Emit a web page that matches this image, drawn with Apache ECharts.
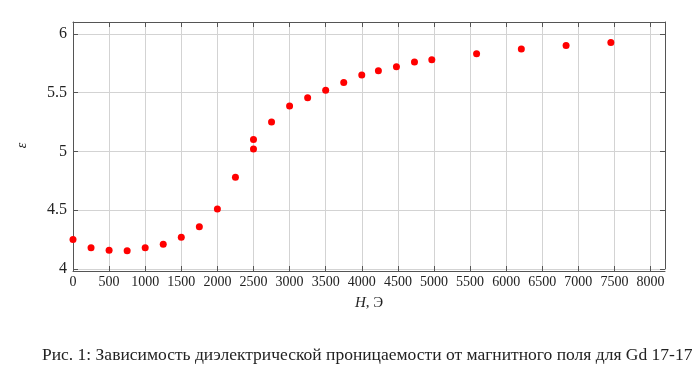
<!DOCTYPE html>
<html>
<head>
<meta charset="utf-8">
<script src="https://cdn.jsdelivr.net/npm/echarts@6/dist/echarts.min.js"></script>
<style>
html,body{margin:0;padding:0;background:#fff;}
#chart{width:700px;height:387px;}
</style>
</head>
<body>
<div id="chart"></div>
<script>
const fieldH = [0, 250, 500, 750, 1000, 1250, 1500, 1750, 2000, 2250, 2500, 2500, 2750, 3000, 3250, 3500, 3750, 4000, 4230, 4480, 4730, 4970, 5590, 6210, 6830, 7450];
const epsilon = [4.25, 4.18, 4.16, 4.155, 4.18, 4.21, 4.27, 4.36, 4.51, 4.78, 5.02, 5.10, 5.25, 5.385, 5.455, 5.52, 5.585, 5.65, 5.685, 5.72, 5.76, 5.78, 5.83, 5.87, 5.90, 5.925];
const xTitle = '{i|H}, Э';
const yTitle = 'ε';
const caption = 'Рис. 1: Зависимость диэлектрической проницаемости от магнитного поля для Gd 17-17';

const serif = '"Liberation Serif", "DejaVu Serif", serif';
const lineCol = '#555';
const gridCol = '#d3d3d3';

const chart = echarts.init(document.getElementById('chart'));
const pts = fieldH.map((h, i) => [h, epsilon[i]]);

const xCommon = {type: 'value', min: 0, max: 8200, interval: 500};
const yCommon = {type: 'value', min: 4, max: 6.1, interval: 0.5};

chart.setOption({
  animation: false,
  grid: {left: 73, right: 35, top: 22, bottom: 118},
  xAxis: [
    Object.assign({}, xCommon, {
      position: 'bottom',
      offset: 2,
      name: xTitle,
      nameLocation: 'middle',
      nameGap: 25,
      nameTextStyle: {fontFamily: serif, fontSize: 15, color: '#222',
        rich: {i: {fontFamily: serif, fontSize: 15, fontStyle: 'italic', color: '#222'}}},
      axisLine: {show: true, onZero: false, lineStyle: {color: lineCol, width: 1}},
      axisTick: {show: true, inside: true, length: 5, lineStyle: {color: lineCol}},
      axisLabel: {fontFamily: serif, fontSize: 14, color: '#222', margin: 4, showMaxLabel: false,
        formatter: v => String(v)},
      splitLine: {show: true, lineStyle: {color: gridCol, width: 1}}
    }),
    Object.assign({}, xCommon, {
      position: 'top',
      axisLine: {show: true, onZero: false, lineStyle: {color: lineCol, width: 1}},
      axisTick: {show: true, inside: true, length: 5, lineStyle: {color: lineCol}},
      axisLabel: {show: false},
      splitLine: {show: false}
    })
  ],
  yAxis: [
    Object.assign({}, yCommon, {
      position: 'left',
      name: yTitle,
      nameLocation: 'middle',
      nameRotate: 90,
      nameGap: 44,
      nameTextStyle: {fontFamily: serif, fontSize: 14, fontStyle: 'italic', color: '#222'},
      axisLine: {show: true, onZero: false, lineStyle: {color: lineCol, width: 1}},
      axisTick: {show: true, inside: true, length: 5, lineStyle: {color: lineCol}},
      axisLabel: {fontFamily: serif, fontSize: 16, color: '#222', margin: 6, showMaxLabel: false,
        formatter: v => String(v)},
      splitLine: {show: true, lineStyle: {color: gridCol, width: 1}}
    }),
    Object.assign({}, yCommon, {
      position: 'right',
      axisLine: {show: true, onZero: false, lineStyle: {color: lineCol, width: 1}},
      axisTick: {show: true, inside: true, length: 5, lineStyle: {color: lineCol}},
      axisLabel: {show: false},
      splitLine: {show: false}
    })
  ],
  series: [{
    type: 'scatter',
    xAxisIndex: 0,
    yAxisIndex: 0,
    data: pts,
    symbol: 'circle',
    symbolSize: 7,
    itemStyle: {color: '#ff0000', opacity: 1}
  }],
  graphic: [{
    type: 'text',
    left: 42,
    top: 346,
    style: {text: caption, font: '17.5px ' + serif, fill: '#222'}
  }]
});
</script>
</body>
</html>
